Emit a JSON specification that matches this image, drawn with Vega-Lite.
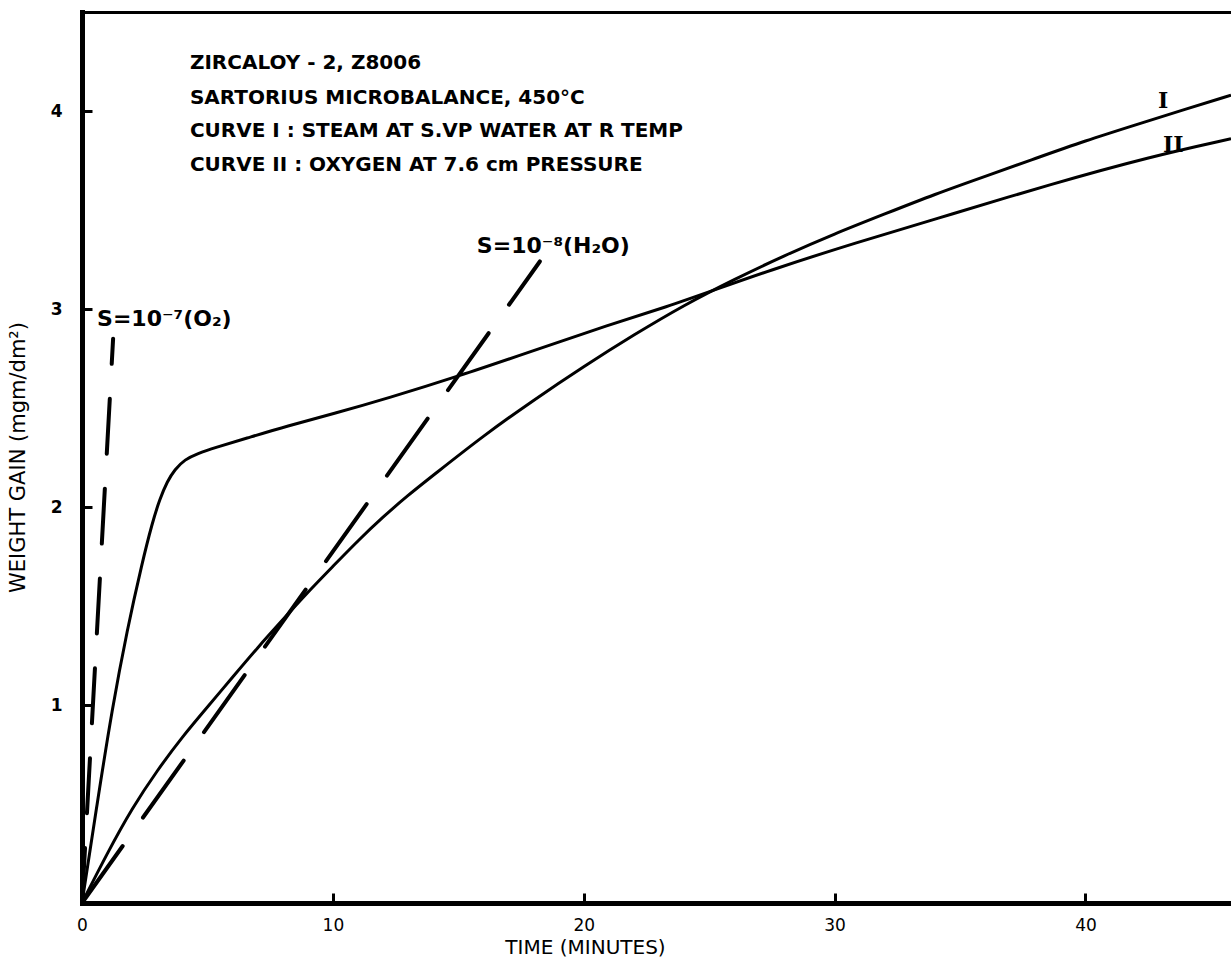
{
  "$schema": "https://vega.github.io/schema/vega-lite/v6.json",
  "width": 1149,
  "height": 891,
  "autosize": "none",
  "padding": {"left": 82, "top": 12, "right": 0, "bottom": 62},
  "background": "white",
  "config": {"view": {"stroke": null}, "font": "DejaVu Sans"},
  "datasets": {
    "curves": [
      {"curve": "I", "t": 0, "w": 0},
      {"curve": "I", "t": 1, "w": 0.25},
      {"curve": "I", "t": 2, "w": 0.48},
      {"curve": "I", "t": 3, "w": 0.67},
      {"curve": "I", "t": 4, "w": 0.84},
      {"curve": "I", "t": 5, "w": 0.99},
      {"curve": "I", "t": 6, "w": 1.14},
      {"curve": "I", "t": 7, "w": 1.29},
      {"curve": "I", "t": 8, "w": 1.43},
      {"curve": "I", "t": 9, "w": 1.57},
      {"curve": "I", "t": 10, "w": 1.7},
      {"curve": "I", "t": 11, "w": 1.83},
      {"curve": "I", "t": 12, "w": 1.95},
      {"curve": "I", "t": 13, "w": 2.06},
      {"curve": "I", "t": 14, "w": 2.16},
      {"curve": "I", "t": 16, "w": 2.36},
      {"curve": "I", "t": 18, "w": 2.54},
      {"curve": "I", "t": 20, "w": 2.71},
      {"curve": "I", "t": 22, "w": 2.87},
      {"curve": "I", "t": 24, "w": 3.02},
      {"curve": "I", "t": 26, "w": 3.15},
      {"curve": "I", "t": 28, "w": 3.27},
      {"curve": "I", "t": 30, "w": 3.38},
      {"curve": "I", "t": 32, "w": 3.48},
      {"curve": "I", "t": 34, "w": 3.58},
      {"curve": "I", "t": 36, "w": 3.67},
      {"curve": "I", "t": 38, "w": 3.76},
      {"curve": "I", "t": 40, "w": 3.85},
      {"curve": "I", "t": 42, "w": 3.93},
      {"curve": "I", "t": 44, "w": 4.01},
      {"curve": "I", "t": 45.8, "w": 4.08},
      {"curve": "II", "t": 0, "w": 0},
      {"curve": "II", "t": 0.6, "w": 0.5},
      {"curve": "II", "t": 1.2, "w": 0.98},
      {"curve": "II", "t": 1.8, "w": 1.38},
      {"curve": "II", "t": 2.4, "w": 1.72},
      {"curve": "II", "t": 2.8, "w": 1.92},
      {"curve": "II", "t": 3.1, "w": 2.04},
      {"curve": "II", "t": 3.4, "w": 2.13},
      {"curve": "II", "t": 3.7, "w": 2.19},
      {"curve": "II", "t": 4.1, "w": 2.24},
      {"curve": "II", "t": 4.6, "w": 2.27},
      {"curve": "II", "t": 5.3, "w": 2.3},
      {"curve": "II", "t": 6.5, "w": 2.345},
      {"curve": "II", "t": 8.2, "w": 2.41},
      {"curve": "II", "t": 10, "w": 2.47},
      {"curve": "II", "t": 12.2, "w": 2.55},
      {"curve": "II", "t": 15, "w": 2.66},
      {"curve": "II", "t": 18, "w": 2.79},
      {"curve": "II", "t": 21, "w": 2.92},
      {"curve": "II", "t": 23.3, "w": 3.01},
      {"curve": "II", "t": 25.3, "w": 3.1},
      {"curve": "II", "t": 27.3, "w": 3.19},
      {"curve": "II", "t": 30.7, "w": 3.33},
      {"curve": "II", "t": 34.7, "w": 3.48},
      {"curve": "II", "t": 38.6, "w": 3.63},
      {"curve": "II", "t": 42.6, "w": 3.77},
      {"curve": "II", "t": 45.8, "w": 3.86}
    ],
    "o2": [
      {"t": 0, "w": 0},
      {"t": 1.24, "w": 2.85}
    ],
    "h2o": [
      {"t": 0, "w": 0},
      {"t": 18.25, "w": 3.24}
    ],
    "notes": [
      {"t": 4.3, "w": 4.24, "label": "ZIRCALOY - 2,  Z8006"},
      {"t": 4.3, "w": 4.066, "label": "SARTORIUS  MICROBALANCE, 450°C"},
      {"t": 4.3, "w": 3.9, "label": "CURVE I :  STEAM  AT  S.VP  WATER  AT  R TEMP"},
      {"t": 4.3, "w": 3.727, "label": "CURVE II :  OXYGEN  AT  7.6 cm  PRESSURE"}
    ],
    "roman": [
      {"t": 43.1, "w": 4.05, "label": "I"},
      {"t": 43.5, "w": 3.83, "label": "II"}
    ],
    "slopes": [
      {"t": 0.6, "w": 2.95, "label": "S=10⁻⁷(O₂)"},
      {"t": 15.74, "w": 3.32, "label": "S=10⁻⁸(H₂O)"}
    ]
  },
  "resolve": {"axis": {"x": "independent", "y": "independent"}},
  "layer": [
    {
      "data": {"name": "curves"},
      "mark": {"type": "line", "interpolate": "basis", "color": "black", "strokeWidth": 3, "clip": true},
      "encoding": {
        "x": {
          "field": "t", "type": "quantitative",
          "scale": {"domain": [0, 45.8], "nice": false, "zero": false},
          "axis": {
            "values": [0, 10, 20, 30, 40], "grid": false,
            "domainColor": "black", "domainWidth": 5, "domainCap": "square",
            "tickColor": "black", "tickWidth": 3, "tickSize": -10,
            "labelFont": "DejaVu Sans", "labelFontSize": 17, "labelColor": "black",
            "labelPadding": 24, "labelFlush": false,
            "title": "TIME (MINUTES)", "titleFont": "DejaVu Sans", "titleFontSize": 20,
            "titleFontWeight": "normal", "titleColor": "black",
            "titleX": 503, "titleY": 44, "titleBaseline": "middle", "titleAnchor": null
          }
        },
        "y": {
          "field": "w", "type": "quantitative",
          "scale": {"domain": [0, 4.5], "nice": false},
          "axis": {
            "values": [1, 2, 3, 4], "grid": false,
            "domainColor": "black", "domainWidth": 5, "domainCap": "square",
            "tickColor": "black", "tickWidth": 3, "tickSize": -10,
            "labelFont": "DejaVu Sans", "labelFontSize": 17, "labelColor": "black",
            "labelPadding": 30, "labelFontWeight": "bold",
            "title": "WEIGHT GAIN  (mgm/dm²)", "titleFont": "DejaVu Sans", "titleFontSize": 21,
            "titleFontWeight": "normal", "titleColor": "black",
            "titleX": -64, "titleY": 445, "titleBaseline": "middle", "titleAngle": -90
          }
        },
        "detail": {"field": "curve", "type": "nominal"}
      }
    },
    {
      "data": {"name": "o2"},
      "mark": {"type": "line", "color": "black", "strokeWidth": 4, "strokeDash": [55, 35], "strokeCap": "round"},
      "encoding": {
        "x": {"field": "t", "type": "quantitative", "axis": {"orient": "top", "labels": false, "ticks": false, "title": null, "grid": false, "domainColor": "black", "domainWidth": 3}},
        "y": {"field": "w", "type": "quantitative", "axis": null}
      }
    },
    {
      "data": {"name": "h2o"},
      "mark": {"type": "line", "color": "black", "strokeWidth": 4, "strokeDash": [70, 35], "strokeCap": "round"},
      "encoding": {
        "x": {"field": "t", "type": "quantitative", "axis": null},
        "y": {"field": "w", "type": "quantitative", "axis": null}
      }
    },
    {
      "data": {"name": "notes"},
      "mark": {"type": "text", "align": "left", "baseline": "middle", "font": "DejaVu Sans", "fontSize": 20, "fontWeight": "bold", "color": "black"},
      "encoding": {
        "x": {"field": "t", "type": "quantitative", "axis": null},
        "y": {"field": "w", "type": "quantitative", "axis": null},
        "text": {"field": "label"}
      }
    },
    {
      "data": {"name": "roman"},
      "mark": {"type": "text", "align": "center", "baseline": "middle", "font": "DejaVu Serif", "fontSize": 22, "fontWeight": "bold", "color": "black"},
      "encoding": {
        "x": {"field": "t", "type": "quantitative", "axis": null},
        "y": {"field": "w", "type": "quantitative", "axis": null},
        "text": {"field": "label"}
      }
    },
    {
      "data": {"name": "slopes"},
      "mark": {"type": "text", "align": "left", "baseline": "middle", "font": "DejaVu Sans", "fontSize": 22, "fontWeight": "bold", "color": "black"},
      "encoding": {
        "x": {"field": "t", "type": "quantitative", "axis": null},
        "y": {"field": "w", "type": "quantitative", "axis": null},
        "text": {"field": "label"}
      }
    }
  ]
}
